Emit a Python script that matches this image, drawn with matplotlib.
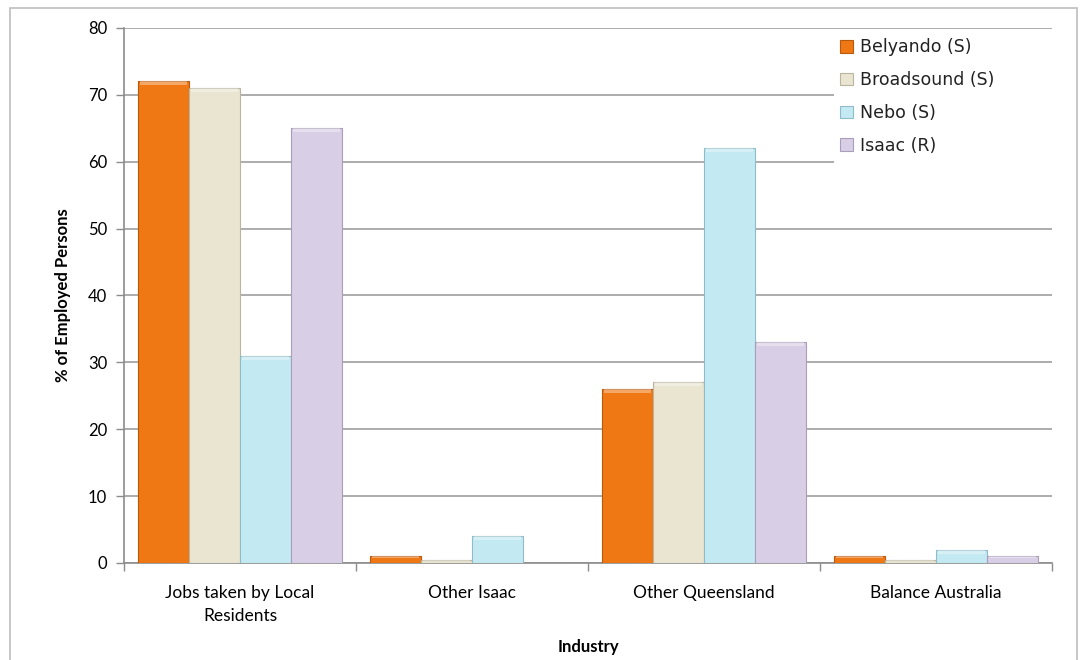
import numpy as np
import matplotlib.pyplot as plt
from matplotlib.patches import Rectangle

plt.rcParams['font.family'] = ['Lato', 'DejaVu Sans']

categories = ['Jobs taken by Local\nResidents', 'Other Isaac', 'Other Queensland', 'Balance Australia']
series = ['Belyando (S)', 'Broadsound (S)', 'Nebo (S)', 'Isaac (R)']
belyando = [72, 1, 26, 1]
broadsound = [71, 0.5, 27, 0.5]
nebo = [31, 4, 62, 2]
isaac = [65, 0, 33, 1]
values = [belyando, broadsound, nebo, isaac]

colors = ['#F07814', '#E9E5D1', '#C3E9F2', '#D8CEE6']
edges = ['#B85A0E', '#B9B5A0', '#8FBCC8', '#A99DBA']

fig = plt.figure(figsize=(10.8, 6.6), dpi=100)
ax = fig.add_axes([0.1148, 0.147, 0.974 - 0.1148, 0.9576 - 0.147])

# outer chart frame
fig.patches.append(Rectangle((0.0093, -0.02), 0.9877, 1.008, transform=fig.transFigure,
                             fill=False, edgecolor='#BDBDBD', linewidth=1.2))

x = np.arange(len(categories))
w = 0.22
for i, (name, vals) in enumerate(zip(series, values)):
    pos = x + (i - 1.5) * w
    ax.bar(pos, vals, width=w, color=colors[i], edgecolor=edges[i], linewidth=0.8,
           label=name, zorder=3)
    # light bevel on top of each bar
    for p, v in zip(pos, vals):
        if v > 0:
            ax.bar(p, min(0.6, v * 0.3), bottom=v - min(0.6, v * 0.3), width=w * 0.92,
                   color='white', alpha=0.35, linewidth=0, zorder=4)

ax.set_xlim(-0.5, len(categories) - 0.5)
ax.set_ylim(0, 80)
ax.set_yticks(np.arange(0, 81, 10))
ax.set_xticks(x)
ax.set_xticklabels(categories, fontsize=12.5, multialignment='center', linespacing=1.5)
ax.set_xticks(np.arange(-0.5, len(categories), 1), minor=True)
ax.tick_params(axis='x', which='major', length=0, pad=16)
ax.tick_params(axis='x', which='minor', length=6, color='#8C8C8C', width=1)
ax.tick_params(axis='y', length=6, color='#8C8C8C', width=1, labelsize=12, pad=6)

ax.grid(axis='y', color='#A6A6A6', linewidth=1.3, zorder=0)
for s in ['top', 'right']:
    ax.spines[s].set_visible(False)
for s in ['left', 'bottom']:
    ax.spines[s].set_color('#8C8C8C')
    ax.spines[s].set_linewidth(1.2)

ax.set_ylabel('% of Employed Persons', fontsize=12, fontweight='bold', labelpad=12)
ax.set_xlabel('Industry', fontsize=12, fontweight='bold', labelpad=11)

leg = ax.legend(loc='upper left', bbox_to_anchor=(0.76, 1.0), frameon=False,
                prop={'family': 'DejaVu Sans', 'size': 12.5}, handlelength=0.75,
                handleheight=0.75, handletextpad=0.45, labelspacing=0.85,
                borderpad=0.3, borderaxespad=0.3)
leg.set_zorder(5)
for t in leg.get_texts():
    t.set_color('#222222')

# white block behind the legend hides the gridlines as in the original
fig.canvas.draw()
bb = leg.get_window_extent().transformed(ax.transAxes.inverted())
ax.add_patch(Rectangle((0.765, bb.y0 - 0.01), 1.0 - 0.765, 1.0 - bb.y0 + 0.007,
                       transform=ax.transAxes, facecolor='white', edgecolor='none', zorder=2.5))

fig.savefig('out.png', dpi=100)
